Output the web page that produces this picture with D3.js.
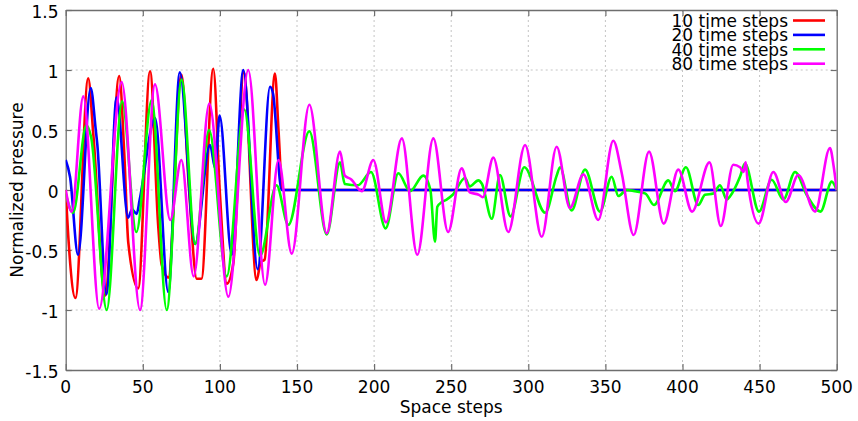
<!DOCTYPE html>
<html>
<head>
<meta charset="utf-8">
<script src="https://cdn.jsdelivr.net/npm/d3@7"></script>
<style>
  html, body { margin: 0; padding: 0; background: #fff; }
  svg { display: block; font-family: "DejaVu Sans", Verdana, sans-serif; }
</style>
</head>
<body>
<svg id="chart" width="858" height="421"></svg>
<script>
// Axis ticks
const xTicks = [0, 50, 100, 150, 200, 250, 300, 350, 400, 450, 500];
const yTicks = [-1.5, -1, -0.5, 0, 0.5, 1, 1.5];

// Series names and colours
const seriesNames = ["10 time steps", "20 time steps", "40 time steps", "80 time steps"];
const seriesColors = ["#ff0000", "#0000ff", "#00ff00", "#ff00ff"];

// Normalized pressure vs space step, [step, pressure]
const steps10 = [
  [0, 0], [2, -0.45], [6.3, -0.9], [14.6, 0.93], [18, 0.45], [25.5, -0.88],
  [34.7, 0.95], [38, 0.3], [40.6, -0.44], [47, -0.82], [54.7, 0.99], [60, -0.3],
  [62.2, -0.62], [66.5, -0.73], [75.1, 0.96], [80, 0], [85, -0.74], [88, -0.74],
  [95.7, 1.01], [100, -0.03], [104.5, -0.78], [108.7, -0.61], [115.5, 0.98],
  [123.8, -0.75], [126.5, -0.6], [129, -0.58], [135.7, 0.97], [138, 0.5],
  [140.5, 0], [500, 0]
];
const steps20 = [
  [0, 0.25], [2.8, 0.11], [8, -0.54], [16.2, 0.85], [19.5, 0.5], [20.5, 0.38],
  [26.4, -0.87], [33, 0.77], [40.5, -0.23], [43, -0.16], [46, -0.2], [48, -0.08],
  [58, 0.6], [66.5, -0.85], [74, 0.98], [83.9, -0.45], [93.6, 0.375], [97, 0.18],
  [99.8, 0.62], [107.7, -0.54], [115.2, 1.0], [124.5, -0.66], [132.5, 0.86],
  [134.5, 0.8], [140, 0], [500, 0]
];
const steps40 = [
  [0, -0.03], [4.8, -0.19], [13.4, 0.54], [16.5, 0.44], [26.6, -1.0], [36.6, 0.74],
  [45.8, -0.35], [55.8, 0.75], [65.5, -1.0], [75.2, 0.92], [84, -0.45], [93, 0.5],
  [104.4, -0.72], [115.8, 0.67], [126, -0.55], [136.7, 0.04], [144.4, -0.29],
  [158, 0.49], [169.3, -0.37], [177.9, 0.23], [181, 0.05], [189.5, 0.04], [198, 0.15],
  [207.5, -0.32], [215.7, 0.14], [223.3, -0.01], [231.9, 0.12], [236.5, 0.0],
  [239.5, -0.43], [241, -0.14], [244, -0.1], [247, -0.08], [251, -0.04], [259, 0.1],
  [262, 0.03], [267.6, 0.08], [270, 0.05], [276.3, -0.24], [281.6, 0.125],
  [288.5, -0.22], [297.4, 0.19], [311, -0.19], [318.4, 0.12], [320.6, 0.19],
  [328.1, -0.17], [336.8, 0.17], [346.5, -0.18], [354.1, 0.11], [358.4, -0.05],
  [363.8, 0], [369.3, -0.01], [376, -0.03], [381.5, -0.125], [390.8, 0.08],
  [395.1, -0.01], [402.2, 0.19], [410.2, -0.125], [414.6, -0.04], [420, -0.03],
  [424.3, 0.04], [428.7, -0.08], [431, -0.05], [437.3, 0.11], [440.5, 0.22],
  [449.6, -0.18], [457.8, 0.085], [465.4, -0.08], [473, 0.15], [480.5, -0.04],
  [489.5, -0.18], [496.8, 0.07], [500, 0]
];
const steps80 = [
  [0, 0], [3.9, -0.18], [11.4, 0.78], [21.7, -0.99], [36.3, 0.9], [48.2, -1.0],
  [57.9, 0.88], [67.8, -0.25], [75, 0.25], [83, -0.72], [93.1, 0.72], [105.5, -0.89],
  [118.4, 1.0], [129.3, -0.79], [138, 0.25], [146.6, -0.53], [158, 0.71],
  [169.3, -0.36], [177.9, 0.32], [181, 0.12], [185, 0.09], [192, -0.01],
  [199.5, 0.25], [207.7, -0.27], [218, 0.43], [228, -0.54], [238.4, 0.43],
  [248, -0.35], [256.8, 0.18], [262, -0.02], [268, -0.04], [270.5, -0.06],
  [277.3, 0.27], [287, -0.35], [297.9, 0.375], [308.7, -0.39], [318.4, 0.36],
  [327, -0.15], [335.7, 0.13], [345.4, -0.25], [355.1, 0.41], [360.6, 0.14],
  [368.3, -0.375], [378.3, 0.32], [387.8, -0.28], [397.3, 0.17], [406.2, -0.18],
  [417.5, 0.23], [424.8, -0.3], [432.9, 0.21], [437.3, 0.19], [439.5, 0.15],
  [441, 0.23], [442, 0.1], [449.4, -0.28], [458.9, 0.15], [467, -0.1],
  [475.1, 0.125], [486, -0.18], [495.6, 0.35], [498, 0.2], [500, 0]
];

const seriesData = [steps10, steps20, steps40, steps80];

const svg = d3.select("#chart");
const plot = { left: 65.7, right: 836.7, top: 10, bottom: 370 };

const x = d3.scaleLinear().domain([0, 500]).range([plot.left, plot.right]);
const y = d3.scaleLinear().domain([-1.5, 1.5]).range([plot.bottom, plot.top]);

// Dotted grid
const grid = svg.append("g").attr("stroke", "#c4c4c4").attr("stroke-width", 1)
  .attr("stroke-dasharray", "2,3");
grid.selectAll("line.gx").data(xTicks.slice(1, -1)).join("line")
  .attr("x1", d => x(d)).attr("x2", d => x(d))
  .attr("y1", plot.top).attr("y2", plot.bottom);
grid.selectAll("line.gy").data(yTicks.slice(1, -1)).join("line")
  .attr("y1", d => y(d)).attr("y2", d => y(d))
  .attr("x1", plot.left).attr("x2", plot.right);

// Axes with inward ticks; labels drawn separately
const axisColor = "#6e6e6e";
const bottomAxis = svg.append("g").attr("transform", `translate(0,${plot.bottom})`)
  .call(d3.axisBottom(x).tickValues(xTicks).tickSizeInner(-6).tickSizeOuter(0).tickFormat(""));
const topAxis = svg.append("g").attr("transform", `translate(0,${plot.top})`)
  .call(d3.axisTop(x).tickValues(xTicks).tickSizeInner(-6).tickSizeOuter(0).tickFormat(""));
const leftAxis = svg.append("g").attr("transform", `translate(${plot.left},0)`)
  .call(d3.axisLeft(y).tickValues(yTicks).tickSizeInner(-6).tickSizeOuter(0).tickFormat(""));
const rightAxis = svg.append("g").attr("transform", `translate(${plot.right},0)`)
  .call(d3.axisRight(y).tickValues(yTicks).tickSizeInner(-6).tickSizeOuter(0).tickFormat(""));
[bottomAxis, topAxis, leftAxis, rightAxis].forEach(a => {
  a.selectAll("path.domain").attr("stroke", axisColor).attr("stroke-width", 1.3);
  a.selectAll(".tick line").attr("stroke", axisColor).attr("stroke-width", 1.2);
});

// Tick labels
svg.append("g").selectAll("text").data(xTicks).join("text")
  .attr("x", d => x(d)).attr("y", 393)
  .attr("text-anchor", "middle").attr("font-size", 17).attr("fill", "#000")
  .text(d => String(d));
svg.append("g").selectAll("text").data(yTicks).join("text")
  .attr("x", 58.5).attr("y", d => y(d) + 8)
  .attr("text-anchor", "end").attr("font-size", 17).attr("fill", "#000")
  .text(d => String(d));

// Axis titles
svg.append("text").attr("x", (plot.left + plot.right) / 2).attr("y", 412.5)
  .attr("text-anchor", "middle").attr("font-size", 17).text("Space steps");
svg.append("text").attr("transform", `translate(22.5,${(plot.top + plot.bottom) / 2}) rotate(-90)`)
  .attr("text-anchor", "middle").attr("font-size", 17).text("Normalized pressure");

// Curves
svg.append("clipPath").attr("id", "plot-clip").append("rect")
  .attr("x", plot.left).attr("y", plot.top)
  .attr("width", plot.right - plot.left).attr("height", plot.bottom - plot.top);

const line = d3.line().x(d => x(d[0])).y(d => y(d[1])).curve(d3.curveMonotoneX);
svg.append("g").attr("clip-path", "url(#plot-clip)")
  .selectAll("path").data(seriesData).join("path")
  .attr("d", line)
  .attr("fill", "none")
  .attr("stroke", (d, i) => seriesColors[i])
  .attr("stroke-width", 2.6)
  .attr("stroke-linejoin", "round");

// Legend, top right
const legend = svg.append("g");
seriesNames.forEach((name, i) => {
  const cy = 20.5 + i * 14.4;
  legend.append("text").attr("x", 788).attr("y", cy + 6.5)
    .attr("text-anchor", "end").attr("font-size", 17).text(name);
  legend.append("line").attr("x1", 793).attr("x2", 825).attr("y1", cy).attr("y2", cy)
    .attr("stroke", seriesColors[i]).attr("stroke-width", 2.6);
});
</script>
</body>
</html>
